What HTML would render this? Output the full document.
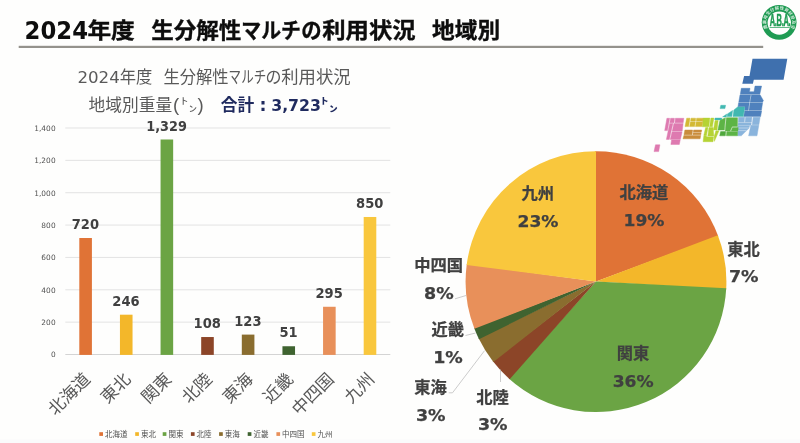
<!DOCTYPE html>
<html lang="ja"><head><meta charset="utf-8"><title>2024年度 生分解性マルチの利用状況 地域別</title>
<style>
html,body{margin:0;padding:0;background:#fefefd;}
body{width:800px;height:443px;overflow:hidden;position:relative;}
svg{position:absolute;left:0;top:0;display:block}
text{font-family:"Liberation Sans","Noto Sans CJK JP",sans-serif;}
.n{font-family:"DejaVu Sans","Liberation Sans","Noto Sans CJK JP",sans-serif;}
.b{font-weight:bold}
</style></head><body>
<svg width="800" height="443" viewBox="0 0 800 443">
<rect x="0" y="0" width="800" height="443" fill="#fefefd"/>
<rect x="0" y="439.5" width="800" height="3.5" fill="#fafafb"/>

<g class="b" font-size="21.3" fill="#0d0d0d" stroke="#0d0d0d" stroke-width="0.35">
<text class="n" font-size="24.4" x="24.6" y="38.75" stroke="none" textLength="63.4" lengthAdjust="spacingAndGlyphs">2024</text>
<text x="87.4" y="37.6" textLength="47.4" lengthAdjust="spacingAndGlyphs">年度</text>
<text x="151.2" y="37.6" textLength="90" lengthAdjust="spacingAndGlyphs">生分解性</text>
<text x="241.3" y="37.6" textLength="59.6" lengthAdjust="spacingAndGlyphs">マルチ</text>
<text x="301.3" y="37.6" textLength="20.4" lengthAdjust="spacingAndGlyphs">の</text>
<text x="322.2" y="37.6" textLength="93.4" lengthAdjust="spacingAndGlyphs">利用状況</text>
<text x="432.1" y="37.6" textLength="68" lengthAdjust="spacingAndGlyphs">地域別</text>
</g>
<rect x="18.7" y="45.8" width="744.5" height="2.2" fill="#94928c"/>
<g font-size="16.6" fill="#595959">
<text class="n" font-size="16.2" x="77.4" y="83" textLength="42.4" lengthAdjust="spacingAndGlyphs">2024</text>
<text x="119.8" y="83.2" textLength="32.6" lengthAdjust="spacingAndGlyphs">年度</text>
<text x="163.6" y="83.2" textLength="65" lengthAdjust="spacingAndGlyphs">生分解性</text>
<text x="228.6" y="83.2" textLength="37.6" lengthAdjust="spacingAndGlyphs">マルチ</text>
<text x="265.4" y="83.2" textLength="16" lengthAdjust="spacingAndGlyphs">の</text>
<text x="281.2" y="83.2" textLength="69.4" lengthAdjust="spacingAndGlyphs">利用状況</text>
</g>
<g font-size="16.6" fill="#595959">
<text x="88.6" y="110.6" textLength="83.6" lengthAdjust="spacingAndGlyphs">地域別重量</text>
<text x="173" y="111.2" font-size="18.6">(</text>
<text x="180.2" y="110.6" font-size="17">㌧</text>
<text x="197.6" y="111.2" font-size="18.6">)</text>
</g>
<g class="b" font-size="16.6" fill="#1f2a5e">
<text x="220.7" y="110.6" textLength="33.4" lengthAdjust="spacingAndGlyphs">合計</text>
<text class="n" x="262.9" y="110.7" text-anchor="middle" font-size="17.5">:</text>
<text class="n" x="271.2" y="110.6" textLength="49.8" lengthAdjust="spacingAndGlyphs">3,723</text>
<text x="320.2" y="111.2" font-size="17.6">㌧</text>
</g>
<g stroke="#e3e3e3" stroke-width="1">
<line x1="65.30" y1="322.14" x2="390.30" y2="322.14"/>
<line x1="65.30" y1="289.79" x2="390.30" y2="289.79"/>
<line x1="65.30" y1="257.43" x2="390.30" y2="257.43"/>
<line x1="65.30" y1="225.07" x2="390.30" y2="225.07"/>
<line x1="65.30" y1="192.71" x2="390.30" y2="192.71"/>
<line x1="65.30" y1="160.36" x2="390.30" y2="160.36"/>
<line x1="65.30" y1="128.00" x2="390.30" y2="128.00"/>
</g>
<line x1="65.30" y1="354.50" x2="390.30" y2="354.50" stroke="#d4d4d4" stroke-width="1"/>
<g class="n" font-size="7.4" fill="#525252" text-anchor="end" letter-spacing="0.08">
<text class="n" x="55.7" y="357.35">0</text>
<text class="n" x="55.7" y="324.99">200</text>
<text class="n" x="55.7" y="292.64">400</text>
<text class="n" x="55.7" y="260.28">600</text>
<text class="n" x="55.7" y="227.92">800</text>
<text class="n" x="55.7" y="195.56">1,000</text>
<text class="n" x="55.7" y="163.21">1,200</text>
<text class="n" x="55.7" y="130.85">1,400</text>
</g>
<rect x="79.31" y="238.01" width="12.60" height="116.89" fill="#e07336"/>
<rect x="119.94" y="314.70" width="12.60" height="40.20" fill="#f3b72a"/>
<rect x="160.56" y="139.49" width="12.60" height="215.41" fill="#6ba444"/>
<rect x="201.19" y="337.03" width="12.60" height="17.87" fill="#8c4528"/>
<rect x="241.81" y="334.60" width="12.60" height="20.30" fill="#8a6d2f"/>
<rect x="282.44" y="346.25" width="12.60" height="8.65" fill="#3f6330"/>
<rect x="323.06" y="306.77" width="12.60" height="48.13" fill="#e8905a"/>
<rect x="363.69" y="216.98" width="12.60" height="137.92" fill="#f9c73d"/>
<g class="b" font-size="13.9" fill="#404040">
<text class="n" x="71.71" y="229.11" textLength="27.3" lengthAdjust="spacingAndGlyphs">720</text>
<text class="n" x="112.34" y="305.80" textLength="27.3" lengthAdjust="spacingAndGlyphs">246</text>
<text class="n" x="146.26" y="130.59" textLength="40.7" lengthAdjust="spacingAndGlyphs">1,329</text>
<text class="n" x="193.59" y="328.13" textLength="27.3" lengthAdjust="spacingAndGlyphs">108</text>
<text class="n" x="234.21" y="325.70" textLength="27.3" lengthAdjust="spacingAndGlyphs">123</text>
<text class="n" x="279.39" y="337.35" textLength="18.2" lengthAdjust="spacingAndGlyphs">51</text>
<text class="n" x="315.46" y="297.87" textLength="27.3" lengthAdjust="spacingAndGlyphs">295</text>
<text class="n" x="356.09" y="208.08" textLength="27.3" lengthAdjust="spacingAndGlyphs">850</text>
</g>
<g font-size="17" fill="#595959" text-anchor="end">
<text x="82.31" y="371.30" transform="rotate(-45 82.31 371.30)" dy="12.6">北海道</text>
<text x="122.94" y="371.30" transform="rotate(-45 122.94 371.30)" dy="12.6">東北</text>
<text x="163.56" y="371.30" transform="rotate(-45 163.56 371.30)" dy="12.6">関東</text>
<text x="204.19" y="371.30" transform="rotate(-45 204.19 371.30)" dy="12.6">北陸</text>
<text x="244.81" y="371.30" transform="rotate(-45 244.81 371.30)" dy="12.6">東海</text>
<text x="285.44" y="371.30" transform="rotate(-45 285.44 371.30)" dy="12.6">近畿</text>
<text x="326.06" y="371.30" transform="rotate(-45 326.06 371.30)" dy="12.6">中四国</text>
<text x="366.69" y="371.30" transform="rotate(-45 366.69 371.30)" dy="12.6">九州</text>
</g>
<g font-size="7.5" fill="#505050">
<rect x="99.3" y="432.2" width="3.7" height="3.7" fill="#e07336"/>
<text x="105.0" y="436.8">北海道</text>
<rect x="135.2" y="432.2" width="3.7" height="3.7" fill="#f3b72a"/>
<text x="140.9" y="436.8">東北</text>
<rect x="162.7" y="432.2" width="3.7" height="3.7" fill="#6ba444"/>
<text x="168.4" y="436.8">関東</text>
<rect x="190.9" y="432.2" width="3.7" height="3.7" fill="#8c4528"/>
<text x="196.6" y="436.8">北陸</text>
<rect x="219.1" y="432.2" width="3.7" height="3.7" fill="#8a6d2f"/>
<text x="224.8" y="436.8">東海</text>
<rect x="247.7" y="432.2" width="3.7" height="3.7" fill="#3f6330"/>
<text x="253.4" y="436.8">近畿</text>
<rect x="276.4" y="432.2" width="3.7" height="3.7" fill="#e8905a"/>
<text x="282.1" y="436.8">中四国</text>
<rect x="311.8" y="432.2" width="3.7" height="3.7" fill="#f9c73d"/>
<text x="317.5" y="436.8">九州</text>
</g>
<path d="M596.00 281.60 L594.86 151.20 A130.40 130.40 0 0 1 718.25 236.23 Z" fill="#e07336"/>
<path d="M596.00 281.60 L717.85 235.17 A130.40 130.40 0 0 1 726.17 289.41 Z" fill="#f3b72a"/>
<path d="M596.00 281.60 L726.23 288.27 A130.40 130.40 0 0 1 508.78 378.54 Z" fill="#6ba444"/>
<path d="M596.00 281.60 L509.63 379.30 A130.40 130.40 0 0 1 492.65 361.12 Z" fill="#8c4528"/>
<path d="M596.00 281.60 L493.35 362.02 A130.40 130.40 0 0 1 478.48 338.11 Z" fill="#8a6d2f"/>
<path d="M596.00 281.60 L478.98 339.13 A130.40 130.40 0 0 1 474.06 327.79 Z" fill="#3f6330"/>
<path d="M596.00 281.60 L474.46 328.86 A130.40 130.40 0 0 1 466.80 263.93 Z" fill="#e8905a"/>
<path d="M596.00 281.60 L466.65 265.06 A130.40 130.40 0 0 1 596.00 151.20 Z" fill="#f9c73d"/>
<g stroke="#bfbfbf" stroke-width="0.8" fill="none">
<path d="M455 298.8 L466 295.5"/>
<path d="M465.5 335.5 L475.5 333"/>
<path d="M448.7 392.8 L452.5 392.8 L484.5 350.7"/>
<path d="M500.5 369.5 L500.5 382"/>
</g>
<g class="b" font-size="16.2" fill="#404040" stroke="#404040" stroke-width="0.25">
<text x="619.4" y="198.3" textLength="48.8" lengthAdjust="spacingAndGlyphs">北海道</text>
<text class="n" font-size="16" x="623.5" y="225.8" textLength="41.0" lengthAdjust="spacingAndGlyphs">19%</text>
<text x="727.2" y="255.0" textLength="32.5" lengthAdjust="spacingAndGlyphs">東北</text>
<text class="n" font-size="16" x="728.9" y="282.0" textLength="29.6" lengthAdjust="spacingAndGlyphs">7%</text>
<text x="616.8" y="359.0" textLength="32.5" lengthAdjust="spacingAndGlyphs">関東</text>
<text class="n" font-size="16" x="612.7" y="387.3" textLength="41.0" lengthAdjust="spacingAndGlyphs">36%</text>
<text x="476.2" y="403.3" textLength="32.5" lengthAdjust="spacingAndGlyphs">北陸</text>
<text class="n" font-size="16" x="477.9" y="430.3" textLength="29.6" lengthAdjust="spacingAndGlyphs">3%</text>
<text x="414.2" y="393.0" textLength="32.5" lengthAdjust="spacingAndGlyphs">東海</text>
<text class="n" font-size="16" x="415.9" y="421.0" textLength="29.6" lengthAdjust="spacingAndGlyphs">3%</text>
<text x="431.6" y="334.8" textLength="32.5" lengthAdjust="spacingAndGlyphs">近畿</text>
<text class="n" font-size="16" x="433.2" y="362.8" textLength="29.6" lengthAdjust="spacingAndGlyphs">1%</text>
<text x="414.3" y="270.8" textLength="48.8" lengthAdjust="spacingAndGlyphs">中四国</text>
<text class="n" font-size="16" x="424.1" y="298.5" textLength="29.6" lengthAdjust="spacingAndGlyphs">8%</text>
<text x="521.5" y="198.8" textLength="32.5" lengthAdjust="spacingAndGlyphs">九州</text>
<text class="n" font-size="16" x="517.5" y="227.0" textLength="41.0" lengthAdjust="spacingAndGlyphs">23%</text>
</g>
<g id="japan-map" stroke-linejoin="miter">
<!-- Hokkaido -->
<path d="M752.5 58.8 L787.3 58.8 L783.6 79.8 L753.8 79.8 L752.9 83.8 L742.3 83.8 L744.1 76 L749.5 76 Z" fill="#3f70ae"/>
<!-- Tohoku -->
<g fill="#4f81bd" stroke="#4f81bd" stroke-width="0.45">
<path d="M741.3 88.3 L750 88.3 L749.5 91.7 L754 91.7 L755 86.1 L761.6 86.1 L759.8 94.3 L740.3 94.3 Z"/>
<path d="M740 94.9 L750.6 94.9 L749.4 102.1 L738.8 102.1 Z"/>
<path d="M751.4 94.9 L760.2 94.9 L763.2 100.3 L762.8 102.1 L750.2 102.1 Z"/>
<path d="M738.6 102.7 L749.3 102.7 L748.2 110.3 L744.6 110.3 L744.9 106.8 L738 106.8 Z"/>
<path d="M750.1 102.7 L762.6 102.7 L761.4 110.3 L749 110.3 Z"/>
<path d="M744.6 110.9 L761.6 110.9 L760.6 116.6 L743.8 116.6 Z"/>
</g>
<!-- Hokuriku / Niigata -->
<g fill="#41b8b1" stroke="#41b8b1" stroke-width="0.45">
<path d="M720.8 105.3 L725.6 105.3 L724.9 108.6 L720.1 108.6 Z"/>
<path d="M737.6 107 L744.7 107 L743.3 116.6 L733 116.6 L733.9 109.9 Z"/>
<path d="M727.4 113.9 L732.6 110.5 L731.8 116.6 L727.2 116.6 Z"/>
<path d="M722.6 116.9 L726.7 114.1 L726.3 116.9 Z"/>
<path d="M715 118.1 L721.8 118.1 L721.6 119.9 L714.8 119.9 Z"/>
</g>
<!-- Kanto -->
<g fill="#8ab4dc" stroke="#8ab4dc" stroke-width="0.45">
<path d="M738.6 117.3 L744.6 117.3 L744.2 122.1 L738.3 122.1 Z"/>
<path d="M745.6 117.3 L752 117.3 L751.4 122.1 L745.1 122.1 Z"/>
<path d="M753.2 117.3 L760.1 117.3 L758.9 124.8 L752.2 124.8 Z"/>
<path d="M738.2 122.7 L751.3 122.7 L750.9 125.2 L738 125.2 Z"/>
<path d="M737.8 125.7 L749.6 125.7 L748.9 128.3 L741.3 135.8 L737.6 135.8 Z"/>
<path d="M750.9 125.3 L758.8 125.3 L757 135.8 L748.6 135.8 Z"/>
</g>
<path d="M738 130.6 L746.6 130.6 M738 128 L749 128" stroke="#d5e5f3" stroke-width="0.6" fill="none"/>
<!-- Chubu green -->
<g fill="#5db446" stroke="#5db446" stroke-width="0.45">
<path d="M719.9 120.5 L725.4 117.7 L724.3 130 L717.9 130 Z"/>
<path d="M726.4 117.7 L737.5 117.7 L737.4 126.4 L732.1 126.4 L730.1 130.9 L725.2 130.9 Z"/>
<path d="M732.5 127.6 L738.2 127.6 L737.9 130.9 L731.2 130.9 Z"/>
<path d="M720.6 131.6 L725.7 131.6 L725.3 135.8 L719.7 135.8 Z" fill="#4fa83c" stroke="#4fa83c"/>
<path d="M726.8 131.6 L737.6 131.6 L737.4 135.8 L726.4 135.8 Z"/>
</g>
<!-- Kinki yellow-green -->
<g fill="#b5d334" stroke="#b5d334" stroke-width="0.45">
<path d="M703.1 118.1 L709.9 118.1 L708.8 126.8 L702.3 126.8 Z"/>
<path d="M710.9 118.1 L713.9 118.1 L712.4 126.8 L709.6 126.8 Z"/>
<path d="M715.1 120.6 L718.2 120.6 L717 129.9 L713.4 129.9 Z"/>
<path d="M705.6 127.6 L708 127.6 L706.5 135 L703.9 135 Z"/>
<path d="M709 127.6 L713.1 127.6 L713.8 135.9 L707.8 135.9 Z"/>
<path d="M715.9 130.8 L719 130.8 L714.3 141.4 L714.2 136.6 Z"/>
<path d="M703.9 135.3 L706.4 135.3 L706.4 136.8 L713.5 136.8 L713 141.7 L703.1 141.7 Z"/>
</g>
<!-- Chugoku -->
<g fill="#d3b935" stroke="#d3b935" stroke-width="0.45">
<path d="M686.7 118.2 L690 118.2 L688.6 126.6 L685 126.6 Z"/>
<path d="M691 118.2 L695.6 118.2 L695.4 121.2 L690.6 121.2 Z"/>
<path d="M696.6 118.2 L703.1 118.2 L702.8 121.2 L696.3 121.2 Z"/>
<path d="M690.4 121.9 L695.3 121.9 L694.6 126.6 L689.6 126.6 Z"/>
<path d="M696.2 121.9 L702.7 121.9 L701.8 126.6 L695.5 126.6 Z"/>
</g>
<!-- Shikoku -->
<g fill="#c98c3c" stroke="#c98c3c" stroke-width="0.45">
<path d="M684.9 130 L692.6 130 L692 134.7 L684 134.7 Z"/>
<path d="M693.6 130 L701.7 130 L701.3 132 L693.3 132 Z"/>
<path d="M693.2 132.7 L701.2 132.7 L700.8 134.7 L692.9 134.7 Z"/>
<path d="M683.9 135.4 L700.7 135.4 L700.1 138.8 L683 138.8 Z"/>
</g>
<!-- Kyushu -->
<g fill="#de7ab0" stroke="#de7ab0" stroke-width="0.45">
<path d="M666.9 118.3 L669.6 118.3 L667.4 130.6 L664.7 130.6 Z"/>
<path d="M670.6 118.3 L674.4 118.3 L674 122.7 L669.8 122.7 Z"/>
<path d="M675.4 118.3 L683.8 118.3 L683.2 122.7 L675 122.7 Z"/>
<path d="M669.7 123.4 L672.9 123.4 L669.3 139.4 L666.4 139.4 Z"/>
<path d="M673.9 123.4 L683.1 123.4 L682.2 131 L672.3 131 Z"/>
<path d="M672.1 131.7 L682.1 131.7 L680.4 139.4 L670.3 139.4 Z"/>
<path d="M671.5 140.1 L680.2 140.1 L679.3 144.5 L670.9 144.5 Z"/>
<path d="M655.5 144.8 L659.9 144.8 L658.7 151.6 L654 151.6 Z"/>
</g>
</g>

<g id="aba-logo">
<circle cx="779.15" cy="22.35" r="17.4" fill="#1f9b53"/>
<circle cx="779.3" cy="23.1" r="11.7" fill="#fefefd"/>
<defs><path id="logoarc" d="M768.1 29.3 A13 13 0 1 1 790.2 29.3"/></defs>
<text font-size="4.2" font-weight="bold" fill="#fefefd" fill-opacity="0.8" letter-spacing="0.25"><textPath href="#logoarc" startOffset="1">農業用生分解性資材普及会</textPath></text>
<text class="b" x="0" y="0" font-size="15.9" fill="#1f9b53" transform="translate(769.7 26.2) scale(0.47 1)" stroke="#1f9b53" stroke-width="0.45" vector-effect="non-scaling-stroke" letter-spacing="-0.6" style="font-family:'Liberation Sans',sans-serif">A.B.A.</text>
<rect x="769.6" y="27.3" width="20.2" height="0.7" fill="#1f9b53"/>
</g>

</svg></body></html>
